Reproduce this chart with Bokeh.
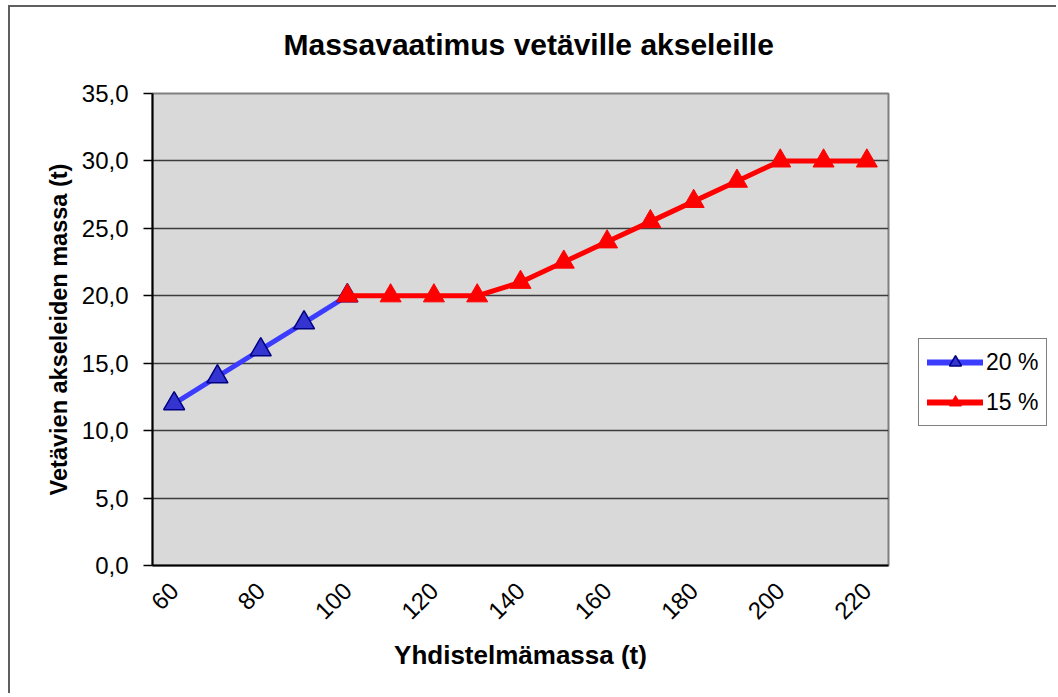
from bokeh.plotting import figure
from bokeh.layouts import row
from bokeh.models import Range1d, FixedTicker, Legend, LegendItem, Title
from bokeh.embed import file_html
from bokeh.resources import INLINE
import math

# ---- data ----
mass_20 = [60, 70, 80, 90, 100]
req_20 = [12.0, 14.0, 16.0, 18.0, 20.0]
mass_15 = [100, 110, 120, 130, 140, 150, 160, 170, 180, 190, 200, 210, 220]
req_15 = [20.0, 20.0, 20.0, 20.0, 21.0, 22.5, 24.0, 25.5, 27.0, 28.5, 30.0, 30.0, 30.0]
x_ticks = [60, 80, 100, 120, 140, 160, 180, 200, 220]
y_ticks = [0, 5, 10, 15, 20, 25, 30, 35]
y_tick_labels = ["0,0", "5,0", "10,0", "15,0", "20,0", "25,0", "30,0", "35,0"]
series_names = ["20 %", "15 %"]
title_text = "Massavaatimus vetäville akseleille"
x_title = "Yhdistelmämassa (t)"
y_title = "Vetävien akseleiden massa (t)"

FONT = "Liberation Sans"
BLUE_LINE = "#3C3CFF"
BLUE_FILL = "#3434D0"
BLUE_EDGE = "#000080"
RED = "#FF0000"
H = 686

p = figure(width=900, height=H, output_backend="svg", toolbar_location=None,
           x_range=Range1d(55, 225), y_range=Range1d(0, 35),
           min_border_left=142, min_border_right=22,
           min_border_top=86, min_border_bottom=128)

p.background_fill_color = "#D9D9D9"
p.border_fill_color = "white"
p.outline_line_color = "#808080"
p.outline_line_width = 2

# spacer between title and frame (closest to frame)
p.add_layout(Title(text=" ", text_font_size="1px", standoff=20), "above")

# title
p.title.text = title_text
p.title.align = "left"
p.title.offset = 131
p.title.standoff = 20
p.title.text_font = FONT
p.title.text_font_size = "30px"
p.title.text_font_style = "bold"
p.title.text_color = "black"

# axes
xa = p.xaxis[0]
xa.ticker = FixedTicker(ticks=x_ticks)
xa.major_label_orientation = math.pi / 4
xa.major_tick_out = 0
xa.major_tick_in = 0
xa.minor_tick_out = 0
xa.minor_tick_in = 0
xa.major_label_standoff = 21
xa.major_label_text_font = FONT
xa.major_label_text_font_size = "24px"
xa.major_label_text_color = "black"
xa.axis_line_color = "black"
xa.axis_line_width = 2
xa.axis_label = x_title
xa.axis_label_text_font = FONT
xa.axis_label_text_font_size = "26px"
xa.axis_label_text_font_style = "bold"
xa.axis_label_text_color = "black"
xa.axis_label_standoff = 10

ya = p.yaxis[0]
ya.ticker = FixedTicker(ticks=y_ticks)
ya.major_label_overrides = {t: lab for t, lab in zip(y_ticks, y_tick_labels)}
ya.major_tick_out = 9
ya.major_tick_in = 0
ya.minor_tick_out = 0
ya.minor_tick_in = 0
ya.major_tick_line_color = "black"
ya.major_tick_line_width = 1.5
ya.major_label_standoff = 15
ya.major_label_text_font = FONT
ya.major_label_text_font_size = "24px"
ya.major_label_text_color = "black"
ya.axis_line_color = "black"
ya.axis_line_width = 2
ya.axis_label = y_title
ya.axis_label_text_font = FONT
ya.axis_label_text_font_size = "23.5px"
ya.axis_label_text_font_style = "bold"
ya.axis_label_text_color = "black"
ya.axis_label_standoff = 7

p.xgrid.visible = False
p.ygrid.ticker = FixedTicker(ticks=y_ticks[1:-1])
p.ygrid.grid_line_color = "#3c3c3c"
p.ygrid.grid_line_width = 1.5

# series
p.line(mass_20, req_20, line_color=BLUE_LINE, line_width=5)
p.scatter(mass_20, req_20, marker="triangle", size=21,
          fill_color=BLUE_FILL, line_color=BLUE_EDGE, line_width=1.5)
p.line(mass_15, req_15, line_color=RED, line_width=5)
p.scatter(mass_15, req_15, marker="triangle", size=21,
          fill_color=RED, line_color=RED, line_width=1)

# legend panel (separate canvas to the right of the chart)
q = figure(width=146, height=H, output_backend="svg", toolbar_location=None,
           x_range=Range1d(0, 1), y_range=Range1d(0, 1),
           x_axis_location=None, y_axis_location=None,
           min_border_left=0, min_border_right=0, min_border_top=0, min_border_bottom=0)
q.grid.visible = False
q.outline_line_color = None
q.background_fill_color = "white"
q.border_fill_color = "white"
# legend proxies: same series data, lying outside this panel's visible range
ql20 = q.line(mass_20, req_20, line_color=BLUE_LINE, line_width=6, line_cap="round")
qs20 = q.scatter(mass_20, req_20, marker="triangle", size=18,
                 fill_color=BLUE_FILL, line_color=BLUE_EDGE, line_width=1.5)
ql15 = q.line(mass_15, req_15, line_color=RED, line_width=6, line_cap="round")
qs15 = q.scatter(mass_15, req_15, marker="triangle", size=19,
                 fill_color=RED, line_color=RED, line_width=1)

legend = Legend(items=[LegendItem(label=series_names[0], renderers=[ql20, qs20]),
                       LegendItem(label=series_names[1], renderers=[ql15, qs15])],
                location=(8, 139))
legend.glyph_width = 56
legend.glyph_height = 30
legend.spacing = 10
legend.padding = 8
legend.margin = 0
legend.label_standoff = 3
legend.label_text_font = FONT
legend.label_text_font_size = "23px"
legend.label_text_color = "black"
legend.border_line_color = "black"
legend.border_line_width = 1.5
legend.background_fill_color = "white"
legend.background_fill_alpha = 1
q.add_layout(legend)

layout = row(p, q, styles={"margin-left": "8px", "margin-top": "5px",
                           "border-left": "2px solid #5f5f5f",
                           "border-top": "2px solid #5f5f5f"})

open("out.html", "w").write(file_html(layout, INLINE))
